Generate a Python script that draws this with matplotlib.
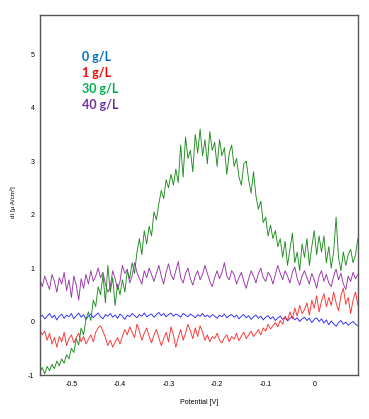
import numpy as np
import matplotlib
matplotlib.use("Agg")
import matplotlib.pyplot as plt

plt.rcParams['axes.unicode_minus'] = False

# potential range of the scan (V)
x_start, x_end = -0.565, 0.09

# dI values (uA/cm2), one every 5 mV
blue_0 = [0.08, 0.12, 0.05, 0.10, 0.15, 0.07, 0.12, 0.03, 0.10, 0.14,
          0.06, 0.12, 0.09, 0.15, 0.05, 0.11, 0.16, 0.08, 0.13, 0.04,
          0.10, 0.14, 0.07, 0.12, 0.16, 0.09, 0.05, 0.13, 0.10, 0.15,
          0.08, 0.12, 0.06, 0.14, 0.10, 0.04, 0.12, 0.09, 0.15, 0.11,
          0.07, 0.13, 0.10, 0.16, 0.09, 0.12, 0.14, 0.08, 0.13, 0.17,
          0.11, 0.15, 0.09, 0.13, 0.16, 0.10, 0.14, 0.12, 0.08, 0.15,
          0.12, 0.09, 0.14, 0.11, 0.07, 0.13, 0.10, 0.15, 0.09, 0.12,
          0.08, 0.13, 0.10, 0.06, 0.12, 0.09, 0.14, 0.07, 0.11, 0.13,
          0.08, 0.12, 0.05, 0.10, 0.13, 0.07, 0.11, 0.04, 0.09, 0.12,
          0.06, 0.10, 0.03, 0.08, 0.11, 0.05, 0.09, 0.02, 0.07, 0.10,
          0.04, 0.08, 0.01, 0.06, 0.09, 0.03, 0.07, 0.00, 0.05, 0.08,
          0.02, 0.06, -0.02, 0.04, 0.07, 0.00, 0.05, -0.03, 0.03, -0.06,
          0.01, -0.04, -0.09, -0.02, 0.02, -0.05, -0.01, -0.07, -0.03, 0.00,
          -0.05, -0.08]

red_1 = [-0.15, -0.25, -0.18, -0.35, -0.22, -0.42, -0.30, -0.48, -0.28, -0.38,
         -0.20, -0.45, -0.32, -0.25, -0.40, -0.30, -0.22, -0.38, -0.28, -0.42,
         -0.33, -0.25, -0.38, -0.20, -0.12, -0.08, -0.18, -0.30, -0.45, -0.35,
         -0.48, -0.38, -0.30, -0.42, -0.28, -0.15, -0.25, -0.10, -0.20, -0.30,
         -0.05, -0.18, -0.35, -0.22, -0.12, -0.28, -0.40, -0.25, -0.15, -0.30,
         -0.45, -0.32, -0.20, -0.38, -0.10, -0.25, -0.48, -0.30, -0.15, -0.35,
         -0.22, -0.05, -0.18, -0.32, -0.12, -0.28, -0.08, -0.20, -0.35, -0.25,
         -0.38, -0.28, -0.32, -0.22, -0.35, -0.40, -0.30, -0.25, -0.38, -0.28,
         -0.33, -0.22, -0.36, -0.27, -0.20, -0.32, -0.25, -0.18, -0.28, -0.22,
         -0.15, -0.25, -0.12, -0.18, -0.05, -0.14, -0.08, -0.02, -0.10, 0.02,
         -0.05, 0.10, 0.02, 0.18, 0.05, 0.25, 0.10, 0.30, 0.15, 0.22,
         0.35, 0.12, 0.40, 0.25, 0.48, 0.18, 0.38, 0.52, 0.28, 0.45,
         0.30, 0.55, 0.35, 0.20, 0.48, 0.62, 0.32, 0.45, 0.15, 0.40,
         0.55, 0.30]

green_30 = [-0.95, -0.86, -0.98, -0.84, -0.92, -0.80, -0.88, -0.74, -0.83, -0.70,
            -0.78, -0.62, -0.70, -0.50, -0.58, -0.32, -0.44, -0.12, -0.25, 0.05,
            0.18, 0.02, 0.40, 0.28, 0.65, 0.50, 0.88, 0.35, 1.05, 0.55,
            0.82, 0.30, 0.70, 0.50, 0.78, 0.55, 0.95, 0.80, 1.10, 0.90,
            1.30, 1.55, 1.25, 1.70, 1.45, 1.78, 1.60, 2.05, 1.90, 2.20,
            2.45, 2.30, 2.65, 2.50, 2.75, 2.55, 2.85, 2.60, 3.30, 2.70,
            3.45, 3.05, 3.20, 2.80, 3.50, 3.15, 3.60, 3.10, 3.40, 2.95,
            3.55, 3.20, 3.35, 2.90, 3.40, 3.10, 3.25, 2.75, 3.15, 3.30,
            2.90, 3.05, 2.70, 2.55, 2.95, 3.00, 2.65, 2.40, 2.80, 2.35,
            2.10, 2.25, 1.85, 1.95, 1.60, 1.80, 1.55, 1.70, 1.40, 1.55,
            1.20, 1.50, 1.05, 1.35, 1.65, 1.10, 1.30, 0.95, 1.45, 1.20,
            1.55, 1.05, 1.40, 1.70, 1.25, 1.60, 1.30, 1.60, 1.10, 1.40,
            1.00, 1.30, 1.95, 1.20, 0.95, 1.30, 1.05, 1.25, 1.35, 1.10,
            1.25, 1.55]

purple_40 = [0.80, 0.65, 0.85, 0.72, 0.60, 0.88, 0.75, 0.55, 0.82, 0.70,
             0.92, 0.58, 0.78, 0.45, 0.85, 0.68, 0.40, 0.80, 0.62, 0.88,
             0.70, 0.95, 0.75, 0.85, 1.00, 0.82, 0.92, 0.70, 0.55, 0.65,
             0.95, 0.80, 0.60, 0.75, 1.05, 0.90, 0.98, 0.72, 0.85, 1.10,
             0.92, 0.80, 0.70, 0.95, 0.82, 1.00, 0.88, 0.75, 0.90, 1.05,
             0.85, 0.70, 0.92, 1.08, 0.88, 0.78, 0.95, 1.12, 0.82, 0.72,
             0.90, 1.00, 0.80, 0.68, 0.85, 0.95, 0.78, 0.88, 1.05, 0.90,
             0.75, 0.65, 0.82, 0.95, 0.80, 0.92, 1.10, 0.85, 0.78, 0.95,
             0.88, 0.70, 0.82, 0.92, 0.75, 0.62, 0.80, 0.95, 0.85, 0.72,
             0.90, 1.00, 0.82, 0.75, 0.92, 0.85, 0.70, 0.88, 1.05, 0.90,
             0.78, 0.95, 0.85, 0.72, 0.92, 1.02, 0.80, 0.68, 0.85, 0.95,
             0.82, 0.70, 0.90, 0.78, 0.62, 0.85, 0.95, 0.75, 0.88, 0.72,
             0.65, 0.85, 0.98, 0.78, 0.90, 0.70, 0.60, 0.85, 0.75, 0.92,
             0.80, 0.88]

labels = ["0 g/L", "1 g/L", "30 g/L", "40 g/L"]
label_colors = ["#0070C0", "#FF0000", "#00B050", "#7030A0"]

xticks = [-0.5, -0.4, -0.3, -0.2, -0.1, 0]
yticks = [-1, 0, 1, 2, 3, 4, 5]

fig = plt.figure(figsize=(3.69, 4.19), dpi=100)
ax = fig.add_axes([0.108, 0.105, 0.862, 0.859])

# draw in this order so green sits on top like the original
series = [(purple_40, "#9933AA"), (blue_0, "#2B2BFF"), (red_1, "#FF3030"), (green_30, "#1E8C1E")]
for vals, col in series:
    xs = np.linspace(x_start, x_end, len(vals))
    ax.plot(xs, vals, color=col, lw=0.65)

ax.set_xlim(x_start, x_end)
ax.set_ylim(-1, 5.73)
ax.set_xticks(xticks)
ax.set_xticklabels([f"{t:g}" for t in xticks])
ax.set_yticks(yticks)

tick_font = ['Liberation Sans Narrow', 'Liberation Sans', 'DejaVu Sans']
for lab in ax.get_xticklabels() + ax.get_yticklabels():
    lab.set_family(tick_font)
    lab.set_fontsize(5)
ax.tick_params(length=0, pad=4)

for s in ax.spines.values():
    s.set_color("#555555")
    s.set_linewidth(1.0)

ax.set_xlabel("Potential [V]", fontsize=5, family=tick_font, labelpad=8)
ax.set_ylabel("dI [µ A/cm²]", fontsize=4.5, family=tick_font, labelpad=5)
ax.yaxis.set_label_coords(-0.075, 0.48)

for k, (txt, col) in enumerate(zip(labels, label_colors)):
    ax.text(0.132, 0.883 - k * 0.0445, txt, color=col, fontsize=9, fontweight="bold",
            family=['Lato', 'DejaVu Sans'], transform=ax.transAxes, va="center", ha="left")

fig.savefig("out.png", dpi=100)
